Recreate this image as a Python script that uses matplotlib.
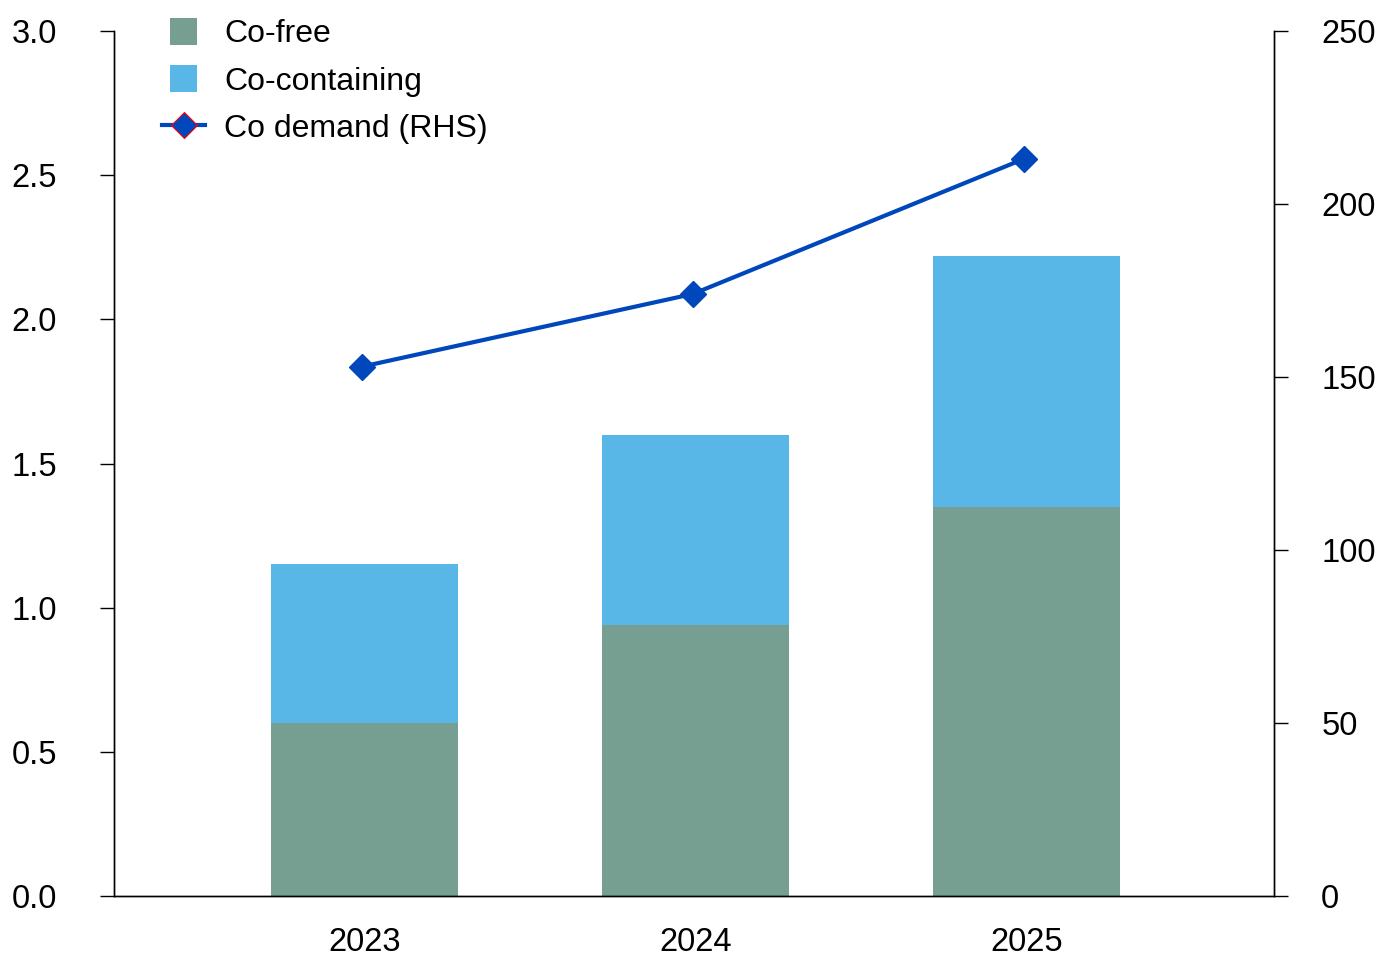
import matplotlib
matplotlib.use("Agg")
import matplotlib.pyplot as plt
from matplotlib.lines import Line2D
from matplotlib.patches import Patch, Rectangle
from matplotlib.legend_handler import HandlerPatch
import numpy as np

years = ["2023", "2024", "2025"]
co_free = [0.60, 0.94, 1.35]
co_containing = [0.55, 0.66, 0.87]
co_demand = [153, 174, 213]

plt.rcParams['font.family'] = ['Liberation Sans', 'DejaVu Sans']

fig = plt.figure(figsize=(13.79, 9.57), dpi=100)
ax = fig.add_axes([114/1379, 1 - 896/957, (1274-114)/1379, (896-31)/957])
ax2 = ax.twinx()

x = np.arange(len(years))
c_free = "#769E91"
c_cont = "#58B7E7"
c_line = "#0047BB"

ax.bar(x, co_free, width=0.565, color=c_free, zorder=2)
ax.bar(x, co_containing, width=0.565, bottom=co_free, color=c_cont, zorder=2)
ax2.plot(x - 0.008, co_demand, color=c_line, lw=3, marker="D", markersize=13, zorder=3)

ax.set_xlim(-0.758, 2.749)
ax.set_ylim(0, 3.0)
ax2.set_ylim(0, 250)
yt = np.arange(0, 3.01, 0.5)
ax.set_yticks(yt)
ax.set_yticklabels([f"{v:.1f}" for v in yt])
ax2.set_yticks(np.arange(0, 251, 50))
ax.set_xticks(x)
ax.set_xticklabels(years)

FS = 23.5
for a in (ax, ax2):
    a.spines['top'].set_visible(False)
    for s in a.spines.values():
        s.set_linewidth(1.0)
ax.tick_params(axis='y', direction='out', length=10, width=1.0, labelsize=FS, pad=31)
ax2.tick_params(axis='y', direction='out', length=10, width=1.0, labelsize=FS, pad=24)
ax.tick_params(axis='x', length=0, labelsize=FS, pad=22)


class SquareHandler(HandlerPatch):
    def create_artists(self, legend, orig_handle, xdescent, ydescent, width, height, fontsize, trans):
        s = 27 * 72 / 100.0  # points
        cx = -xdescent + width / 2.0
        cy = -ydescent + height / 2.0
        r = Rectangle((cx - s / 2, cy - s / 2), s, s, facecolor=orig_handle.get_facecolor(),
                      edgecolor='none', transform=trans)
        return [r]


p1 = Patch(facecolor=c_free, edgecolor='none')
p2 = Patch(facecolor=c_cont, edgecolor='none')
l1 = Line2D([0], [0], color=c_line, lw=3, marker="D", markersize=13,
            markerfacecolor=c_line, markeredgecolor="red", markeredgewidth=0.8)
labels = ["Co-free", "Co-containing", "Co demand (RHS)"]
leg = ax.legend([p1, p2, l1], labels, loc='upper left', bbox_to_anchor=(0.0414, 1.0145),
                frameon=False, fontsize=23, handlelength=1.35, handleheight=0.85,
                labelspacing=0.52, handletextpad=0.6, borderpad=0, borderaxespad=0,
                handler_map={Patch: SquareHandler()})

fig.savefig("out.png", dpi=100)
